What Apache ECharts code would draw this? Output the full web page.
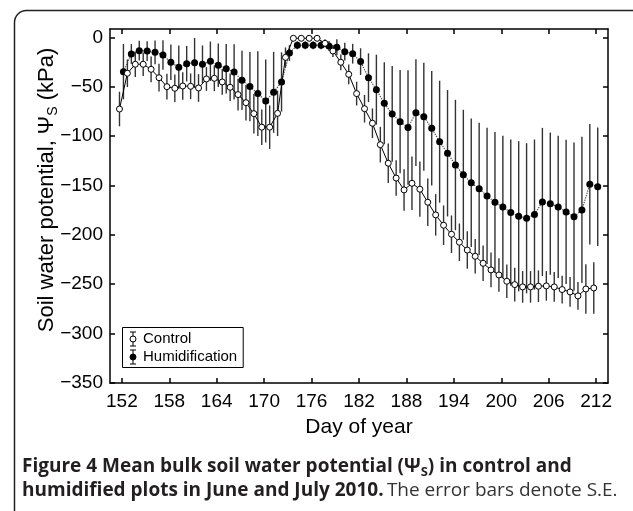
<!DOCTYPE html>
<html><head><meta charset="utf-8">
<script src="https://cdn.jsdelivr.net/npm/echarts@6/dist/echarts.min.js"></script>
<style>html,body{margin:0;padding:0;background:#fff}#c{width:633px;height:511px}</style>
</head><body><div id="c"></div>
<script>
// ---- data (day of year, mean soil water potential in kPa, standard error) ----
const days = [152,153,154,155,156,157,158,159,160,161,162,163,164,165,166,167,168,169,170,171,
  172,173,174,175,176,177,178,179,180,181,182,183,184,185,186,187,188,189,190,191,
  192,193,194,195,196,197,198,199,200,201,202,203,204,205,206,207,208,209,210,211,212];
const controlMean = [-72.6,-36.4,-27.3,-27.3,-32.4,-40.9,-50,-51.6,-49.3,-49.6,-51.3,-42.2,-41.5,-45.2,-50.6,-58,-66.2,-77.3,-91,-91,
  -77,-20.3,-1,-1,-1,-1,-6.1,-13.9,-25.3,-37.5,-57,-72.3,-87,-108.7,-127.5,-142.5,-154.5,-147.8,-153.8,-167,
  -179.8,-190.3,-199.4,-207.5,-215.4,-221.7,-228.8,-235.5,-240.6,-247,-250.4,-252.7,-252.7,-252,-251.7,-252.7,-255.4,-257.8,-261.8,-254.8,-253.8];
const controlSE = [17.5,14,13,12,13,14,13,14,14,13,14,12,13,13,14,16,18,20,18,22,
  23,10,3,3,3,3,4,6,8,10,12,14,15,18,20,18,21,27,28,24,
  21,20,19,19,19,17.5,18,17.5,17,17,17,16,16,16,15,15,14,15,14,25,26];
const humidMean = [-34.8,-16.9,-13.5,-13.9,-15.2,-17.9,-25.3,-30.4,-26.7,-25.7,-27.3,-24.3,-28.3,-31.8,-35.1,-43.5,-49.9,-57,-64.5,-55.7,
  -45.2,-16,-8.1,-8.1,-8.1,-8.1,-8.8,-10.1,-14.6,-16.6,-24.6,-40.9,-53,-66.8,-77.6,-85.4,-91.4,-76.3,-80.4,-92.1,
  -105.7,-117.4,-129.3,-139.2,-147.3,-153.4,-160.6,-167,-171.8,-177.5,-181.2,-183.2,-179.5,-166.7,-168.4,-171.8,-176.8,-181.6,-174.8,-148.8,-151.2];
const humidSE = [28,10,10,10,12,15,18,22,18,25,19,20,22,25,28,30,35,43,42,41,
  30,8,4,4,4,4,5,8,9,10,13.5,24.7,35.4,41.5,48.5,52.3,58,54,54.6,58,
  61.7,64,66,65.8,65,67,69,71,72,74,76,76,76,75,72,72,73,75,74,61,60];
const xTickValues = [152,158,164,170,176,182,188,194,200,206,212];
const yTickValues = [-350,-300,-250,-200,-150,-100,-50,0];
const seriesNames = ['Control','Humidification'];

// ---- presentation ----
const CONTROL_SHIFT = -0.3, HUMID_SHIFT = 0.2;
const FONT = '"Liberation Sans", Arial, sans-serif';
const CAP = '"Open Sans", "Noto Sans", sans-serif';
const minusFmt = v => (v < 0 ? '\u2212' + Math.abs(v) : String(v));

const ctrlPts = days.map((d, i) => [d + CONTROL_SHIFT, controlMean[i], controlSE[i]]);
const humPts = days.map((d, i) => [d + HUMID_SHIFT, humidMean[i], humidSE[i]]);

function errRender(params, api) {
  const x = api.value(0), v = api.value(1), e = api.value(2);
  const a = api.coord([x, v + e]), b = api.coord([x, v - e]);
  return { type: 'line', shape: { x1: a[0], y1: a[1], x2: b[0], y2: b[1] },
    style: { stroke: '#333', lineWidth: 1.4 } };
}

const axisLine = { show: true, onZero: false, lineStyle: { color: '#000', width: 1.5 } };
const tickX = { inside: true, length: 5, customValues: xTickValues, lineStyle: { color: '#000', width: 1.5 } };
const tickY = { inside: true, length: 5, customValues: yTickValues, lineStyle: { color: '#000', width: 1.5 } };

const icon = 'path://M5,0L5,4.2M2,0L8,0M2,14L8,14M5,9.8L5,14M8,7A3,3,0,1,1,2,7A3,3,0,1,1,8,7Z';

const chart = echarts.init(document.getElementById('c'), null, { renderer: 'canvas' });
chart.setOption({
  animation: false,
  backgroundColor: '#fff',
  grid: { left: 110, top: 29, width: 498, height: 354, containLabel: false },
  xAxis: [
    { type: 'value', position: 'bottom', min: 150.5, max: 213.5, axisLine, axisTick: tickX,
      axisLabel: { customValues: xTickValues, fontSize: 19, color: '#000', fontFamily: FONT, margin: 9 },
      splitLine: { show: false },
      name: 'Day of year', nameLocation: 'middle', nameGap: 34,
      nameTextStyle: { fontSize: 21, color: '#000', fontFamily: FONT } },
    { type: 'value', position: 'top', min: 150.5, max: 213.5, axisLine, axisTick: tickX,
      axisLabel: { show: false }, splitLine: { show: false } }
  ],
  yAxis: [
    { type: 'value', position: 'left', min: -350, max: 8.4, axisLine, axisTick: tickY,
      axisLabel: { customValues: yTickValues, formatter: minusFmt, fontSize: 19, color: '#000', fontFamily: FONT, margin: 7 },
      splitLine: { show: false } },
    { type: 'value', position: 'right', min: -350, max: 8.4, axisLine, axisTick: tickY,
      axisLabel: { show: false }, splitLine: { show: false } }
  ],
  legend: {
    orient: 'vertical', left: 122.5, top: 327.5, padding: [4, 6, 3, 7], itemGap: 3,
    itemWidth: 10, itemHeight: 14, borderColor: '#000', borderWidth: 1, borderRadius: 0,
    textStyle: { fontSize: 15, color: '#000', fontFamily: FONT },
    data: [
      { name: seriesNames[0], icon, itemStyle: { color: '#fff', borderColor: '#000', borderWidth: 1 } },
      { name: seriesNames[1], icon, itemStyle: { color: '#000', borderColor: '#000', borderWidth: 1 } }
    ]
  },
  graphic: [
    { type: 'rect', shape: { x: 14.5, y: 10.5, width: 700, height: 600, r: [12, 0, 0, 0] },
      style: { fill: null, stroke: '#222', lineWidth: 1.5 }, silent: true },
    { type: 'text', x: 47, y: 190, rotation: Math.PI / 2,
      style: { text: 'Soil water potential, {p|Ψ}{s|S} (kPa)', align: 'center', verticalAlign: 'middle',
        fontSize: 22, fontFamily: FONT, fill: '#000',
        rich: { p: { fontSize: 22, fontFamily: FONT, lineHeight: 26 },
                s: { fontSize: 14, fontFamily: FONT, lineHeight: 12, verticalAlign: 'bottom' } } } },
    { type: 'text', x: 22, y: 467,
      style: { text: '{b|Figure 4 Mean bulk soil water potential (Ψ}{bs|S}{b|) in control and}',
        verticalAlign: 'middle', fill: '#231f20',
        rich: { b: { fontSize: 19, fontWeight: 'bold', fontFamily: CAP, lineHeight: 24, fill: '#231f20' },
                bs: { fontSize: 13, fontWeight: 'bold', fontFamily: CAP, lineHeight: 13, verticalAlign: 'bottom', fill: '#231f20' } } } },
    { type: 'text', x: 22, y: 491,
      style: { text: '{b|humidified plots in June and July 2010.} {r|The error bars denote S.E.}',
        verticalAlign: 'middle', fill: '#231f20',
        rich: { b: { fontSize: 19, fontWeight: 'bold', fontFamily: CAP, lineHeight: 24, fill: '#231f20' },
                r: { fontSize: 19, fontWeight: 'normal', fontFamily: CAP, lineHeight: 24, fill: '#333' } } } }
  ],
  series: [
    { type: 'custom', name: 'ctrlErr', renderItem: errRender, data: ctrlPts, z: 1, silent: true },
    { type: 'custom', name: 'humErr', renderItem: errRender, data: humPts, z: 1, silent: true },
    { type: 'line', name: seriesNames[1], data: humPts.map(p => [p[0], p[1]]), z: 3,
      symbol: 'circle', symbolSize: 7, showAllSymbol: true,
      itemStyle: { color: '#000' }, lineStyle: { color: '#444', width: 1.2, type: 'dotted' } },
    { type: 'line', name: seriesNames[0], data: ctrlPts.map(p => [p[0], p[1]]), z: 4,
      symbol: 'circle', symbolSize: 6, showAllSymbol: true,
      itemStyle: { color: '#fff', borderColor: '#000', borderWidth: 1 }, lineStyle: { color: '#000', width: 1 } }
  ]
});
</script></body></html>
